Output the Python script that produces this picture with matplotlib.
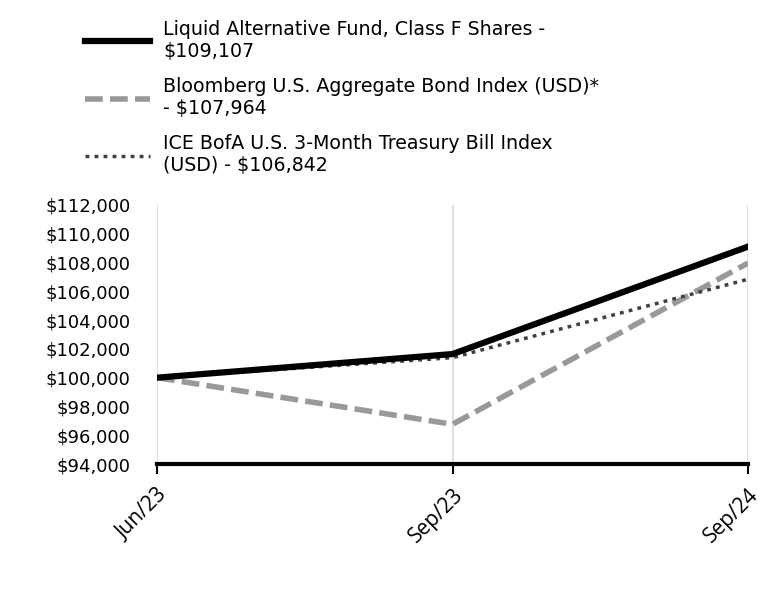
import matplotlib.pyplot as plt
from matplotlib.ticker import FuncFormatter

# ----- Data -----
dates = ["Jun/23", "Sep/23", "Sep/24"]
fund = [100000, 101640, 109107]
bond = [100000, 96760, 107964]
tbill = [100000, 101390, 106842]

labels = [
    "Liquid Alternative Fund, Class F Shares -\n$109,107",
    "Bloomberg U.S. Aggregate Bond Index (USD)*\n- $107,964",
    "ICE BofA U.S. 3-Month Treasury Bill Index\n(USD) - $106,842",
]
yticks = list(range(94000, 112001, 2000))

plt.rcParams["font.family"] = ["DejaVu Sans"]

fig = plt.figure(figsize=(7.68, 6.12), dpi=100)
ax = fig.add_axes([157 / 768, 1 - 464 / 612, (748 - 157) / 768, (464 - 205) / 612])

x = range(len(dates))
l1, = ax.plot(x, fund, color="black", lw=4.5, zorder=4)
l2, = ax.plot(x, bond, color="#999999", lw=4, dashes=(3.2, 1.3), zorder=3)
l3, = ax.plot(x, tbill, color="#404040", lw=2.5, dashes=(1.1, 1.5), zorder=3)

ax.set_xlim(0, len(dates) - 1)
ax.set_ylim(94000, 112000)
ax.set_yticks(yticks)
ax.yaxis.set_major_formatter(FuncFormatter(lambda v, p: f"${v:,.0f}"))
ax.set_xticks(list(x))
ax.set_xticklabels(dates, rotation=45, ha="right", rotation_mode="anchor",
                   family="Open Sans")

ax.grid(axis="x", color="#d9d9d9", lw=1.2)
ax.set_axisbelow(True)
for s in ["top", "right", "left"]:
    ax.spines[s].set_visible(False)
ax.spines["bottom"].set_linewidth(3)
ax.spines["bottom"].set_zorder(5)
ax.tick_params(axis="y", length=0, labelsize=13, pad=19)
ax.tick_params(axis="x", length=7, width=1.5, labelsize=15, pad=8)

fig.legend([l1, l2, l3], labels, loc="upper left", bbox_to_anchor=(85 / 768, 1 - 20 / 612),
           frameon=False, fontsize=13.7, handlelength=3.4, handletextpad=0.7,
           labelspacing=0.85, borderaxespad=0, borderpad=0)

fig.savefig("out.png", dpi=100)
